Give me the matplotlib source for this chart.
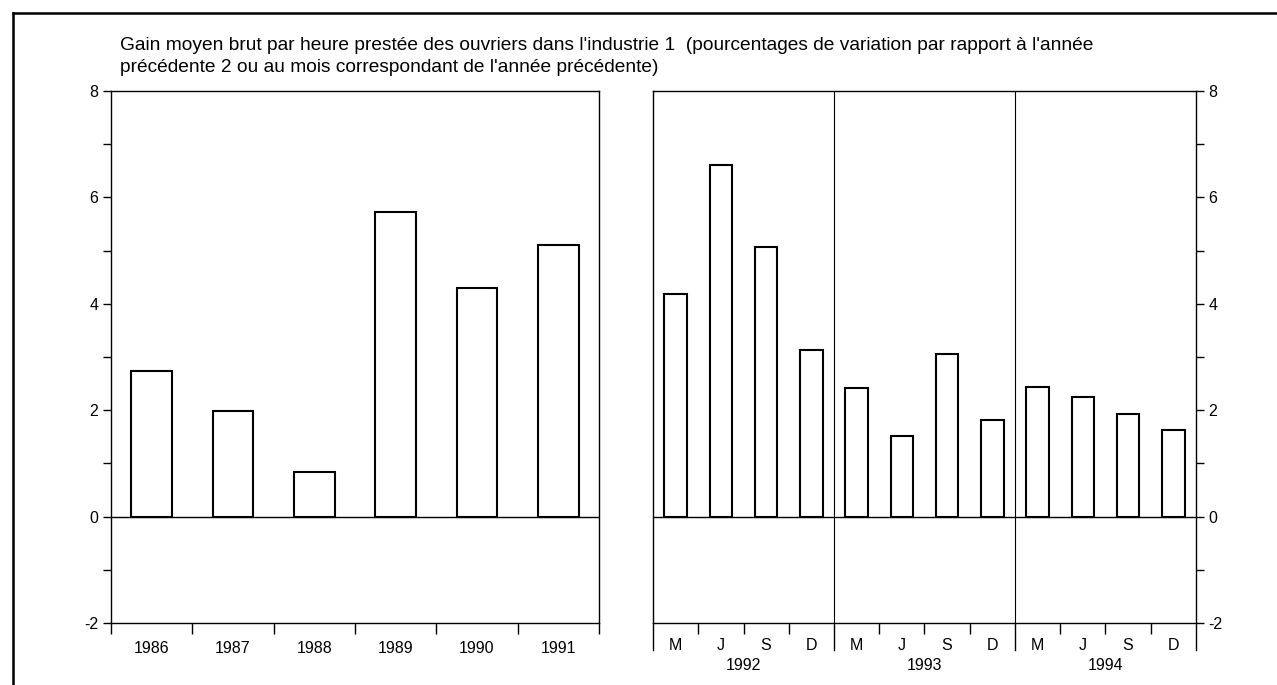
import matplotlib
matplotlib.use("Agg")
import matplotlib.pyplot as plt
import matplotlib.transforms as mtransforms
from matplotlib.lines import Line2D
import numpy as np

plt.rcParams['font.family'] = ['Liberation Sans', 'DejaVu Sans']

# annual changes (left panel)
years = ['1986', '1987', '1988', '1989', '1990', '1991']
annual = [2.74, 1.99, 0.84, 5.72, 4.30, 5.11]

# quarterly changes (right panel)
quarters = ['M', 'J', 'S', 'D'] * 3
quarter_years = ['1992', '1993', '1994']
quarterly = [4.18, 6.60, 5.07, 3.13, 2.41, 1.52, 3.05, 1.82, 2.43, 2.24, 1.92, 1.63]

title = ("Gain moyen brut par heure prestée des ouvriers dans l'industrie 1  "
         "(pourcentages de variation par rapport à l'année\n"
         "précédente 2 ou au mois correspondant de l'année précédente)")

W, H = 1277, 685
fig = plt.figure(figsize=(W / 100, H / 100), dpi=100)

def box(x0, y0, x1, y1):
    # pixel box -> figure fraction
    return [x0 / W, 1 - y1 / H, (x1 - x0) / W, (y1 - y0) / H]

# outer frame (left and top)
fig.add_artist(Line2D([13 / W, 13 / W], [0, 1 - 13 / H], color='black', lw=1.8))
fig.add_artist(Line2D([13 / W, 1], [1 - 13 / H, 1 - 13 / H], color='black', lw=1.8))

fig.text(120 / W, 1 - 37 / H, title, fontsize=13.8, va='top', ha='left',
         linespacing=1.4)

bar_kw = dict(width=0.5, facecolor='white', edgecolor='black', linewidth=1.5, zorder=3)
tick_fs = 11.5


def style_y(ax):
    ax.set_ylim(-2, 8)
    ax.set_yticks([-2, 0, 2, 4, 6, 8])
    ax.set_yticks([-1, 1, 3, 5, 7], minor=True)
    ax.set_yticklabels(['-2', '0', '2', '4', '6', '8'])
    ax.tick_params(axis='y', which='both', direction='out', length=6, width=1.0,
                   labelsize=tick_fs, pad=3)
    for s in ax.spines.values():
        s.set_linewidth(1.0)


# ---- left panel: annual ----
ax1 = fig.add_axes(box(111, 91, 599, 623))
x1 = np.arange(len(years))
ax1.bar(x1, annual, **bar_kw)
ax1.axhline(0, color='black', lw=1.0, zorder=2)
ax1.set_xlim(-0.5, len(years) - 0.5)
ax1.set_xticks(np.arange(-0.5, len(years)))
ax1.set_xticklabels([])
ax1.set_xticks(x1, minor=True)
ax1.set_xticklabels(years, minor=True)
ax1.tick_params(axis='x', which='major', direction='out', length=8, width=1.0)
ax1.tick_params(axis='x', which='minor', length=0, labelsize=tick_fs, pad=13)
style_y(ax1)

# ---- right panel: quarterly ----
ax2 = fig.add_axes(box(653, 91, 1196, 623))
x2 = np.arange(len(quarterly))
ax2.bar(x2, quarterly, **bar_kw)
ax2.axhline(0, color='black', lw=1.0, zorder=2)
ax2.set_xlim(-0.5, len(quarterly) - 0.5)
for b in [3.5, 7.5]:
    ax2.axvline(b, color='black', lw=0.8, zorder=1)
short_b = [b for b in np.arange(0.5, len(quarterly) - 0.5) if b not in (3.5, 7.5)]
ax2.set_xticks(short_b)
ax2.set_xticklabels([])
ax2.set_xticks(x2, minor=True)
ax2.set_xticklabels(quarters, minor=True)
ax2.tick_params(axis='x', which='major', direction='out', length=8, width=1.0)
ax2.tick_params(axis='x', which='minor', length=0, labelsize=tick_fs, pad=11)
ax2.yaxis.tick_right()
style_y(ax2)

# long separators below the axis between years
trans = mtransforms.blended_transform_factory(ax2.transData, ax2.transAxes)
for b in [-0.5, 3.5, 7.5, 11.5]:
    ax2.add_line(Line2D([b, b], [0, -27 / 532], transform=trans, color='black',
                        lw=1.0, clip_on=False))
for i, yr in enumerate(quarter_years):
    ax2.text(4 * i + 1.5, -42 / 532, yr, transform=trans, ha='center', va='center',
             fontsize=tick_fs)

fig.savefig('out.png', dpi=100)
